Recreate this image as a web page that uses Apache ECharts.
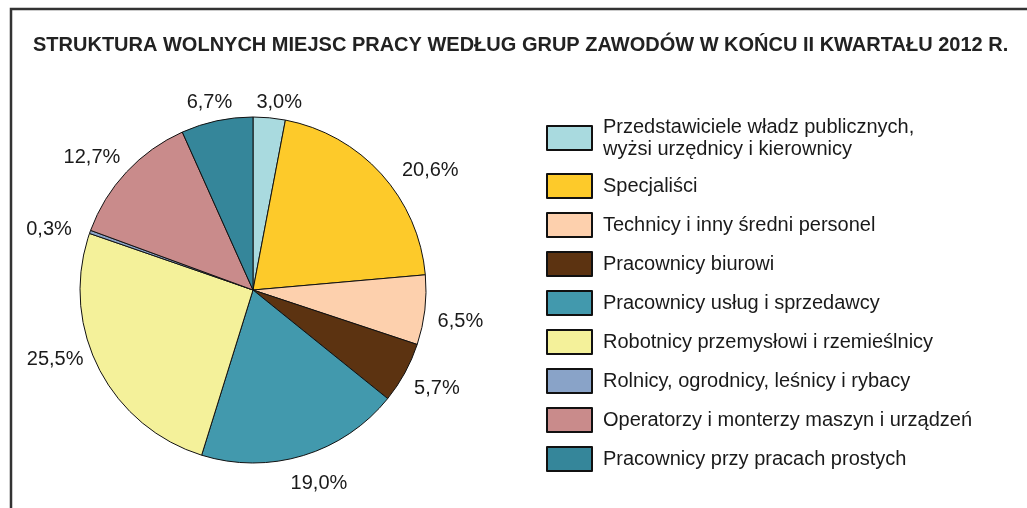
<!DOCTYPE html>
<html><head><meta charset="utf-8">
<script src="https://cdn.jsdelivr.net/npm/echarts@6/dist/echarts.min.js"></script>
<style>html,body{margin:0;padding:0;background:#fff}#c{width:1027px;height:508px}</style>
</head><body><div id="c"></div>
<script>
const categories = [
  'Przedstawiciele władz publicznych,\nwyżsi urzędnicy i kierownicy',
  'Specjaliści',
  'Technicy i inny średni personel',
  'Pracownicy biurowi',
  'Pracownicy usług i sprzedawcy',
  'Robotnicy przemysłowi i rzemieślnicy',
  'Rolnicy, ogrodnicy, leśnicy i rybacy',
  'Operatorzy i monterzy maszyn i urządzeń',
  'Pracownicy przy pracach prostych'
];
const values = [3.0, 20.6, 6.5, 5.7, 19.0, 25.5, 0.3, 12.7, 6.7];
const colors = ['#a9dadf', '#fdca2a', '#fdd0ad', '#5c3311', '#4299ad', '#f4f19a', '#89a3c8', '#c98b8b', '#35869a'];
const titleText = 'STRUKTURA WOLNYCH MIEJSC PRACY WEDŁUG GRUP ZAWODÓW W KOŃCU II KWARTAŁU 2012 R.';
// label layout nudges (px)
const labelNudge = [[7,3],[22,9],[5,9],[5,7],[5,11],[-11,-17],[-12,4],[-8,-2],[-1,-1]];

const CX = 253, CY = 290, R = 173, GAP = 8;
const total = values.reduce((a,b)=>a+b,0);
const mids = [];
let acc = 0;
values.forEach(v => { mids.push((acc + v/2) / total * 2 * Math.PI); acc += v; });

const chart = echarts.init(document.getElementById('c'));
const font = 'Liberation Sans, Arial, sans-serif';
chart.setOption({
  animation: false,
  title: {
    text: titleText, left: 28, top: 30,
    textStyle: { fontFamily: font, fontSize: 20, fontWeight: 'bold', color: '#222' }
  },
  graphic: [{
    type: 'rect', shape: { x: 11, y: 9, width: 1200, height: 700 },
    style: { fill: 'none', stroke: '#333', lineWidth: 2.5 }, silent: true
  }],
  legend: {
    orient: 'vertical', left: 541, top: 111,
    itemWidth: 45, itemHeight: 24, itemGap: 13,
    icon: 'rect',
    selectedMode: false,
    textStyle: { fontFamily: font, fontSize: 20, lineHeight: 22, color: '#1a1a1a', padding: [0,0,0,6] },
    data: categories
  },
  series: [{
    type: 'pie', center: [CX, CY], radius: R, startAngle: 90, clockwise: true,
    avoidLabelOverlap: false,
    itemStyle: { borderColor: '#111', borderWidth: 1 },
    emphasis: { disabled: true },
    label: {
      show: true, position: 'outside', fontFamily: font, fontSize: 20, color: '#1a1a1a',
      formatter: p => p.value.toFixed(1).replace('.', ',') + '%'
    },
    labelLine: { show: false },
    labelLayout: function (p) {
      const i = p.dataIndex, a = mids[i];
      const hw = p.labelRect.width / 2, hh = p.labelRect.height / 2;
      const s = Math.sin(a), c = Math.cos(a);
      return {
        x: CX + (R + GAP) * s + hw * s + labelNudge[i][0],
        y: CY - (R + GAP) * c - hh * c + labelNudge[i][1],
        align: 'center', verticalAlign: 'middle'
      };
    },
    data: categories.map((n, i) => ({ name: n, value: values[i], itemStyle: { color: colors[i] } }))
  }]
});
</script></body></html>
